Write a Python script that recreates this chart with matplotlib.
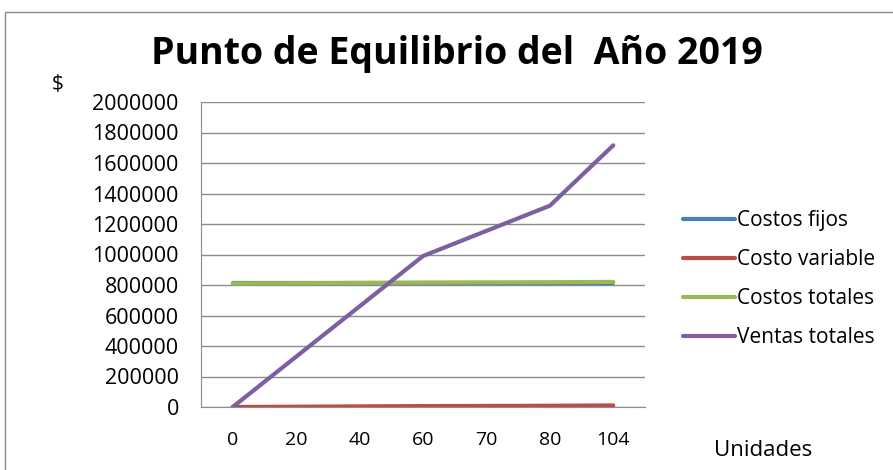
import matplotlib.pyplot as plt
from matplotlib.patches import Rectangle

# Data
unidades = ['0', '20', '40', '60', '70', '80', '104']
costos_fijos = [810000, 810000, 810000, 810000, 810000, 810000, 810000]
costo_variable = [0, 2000, 4000, 6000, 7000, 8000, 10400]
costos_totales = [810000, 812000, 814000, 816000, 817000, 818000, 820400]
ventas_totales = [0, 330000, 660000, 990000, 1155000, 1320000, 1716000]

plt.rcParams['font.family'] = ['Open Sans', 'DejaVu Sans']

fig = plt.figure(figsize=(8.93, 4.70), dpi=100)
ax = fig.add_axes([201 / 893, 1 - 407 / 470, 444 / 893, 305 / 470])

x = range(len(unidades))
ax.plot(x, costos_fijos, color='#4a7ebb', lw=3, label='Costos fijos', solid_capstyle='round')
ax.plot(x, costo_variable, color='#be4b48', lw=3, label='Costo variable', solid_capstyle='round')
ax.plot(x, costos_totales, color='#98b954', lw=3, label='Costos totales', solid_capstyle='round')
ax.plot(x, ventas_totales, color='#7d60a0', lw=3, label='Ventas totales', solid_capstyle='round')

ax.set_xlim(-0.5, len(unidades) - 0.5)
ax.set_ylim(0, 2000000)
ax.set_yticks(range(0, 2000001, 200000))
ax.set_yticklabels([str(v) for v in range(0, 2000001, 200000)], fontsize=15.5)
ax.set_xticks(list(x))
ax.set_xticklabels(unidades, fontsize=14)
ax.tick_params(axis='x', length=0, pad=17)
ax.tick_params(axis='y', length=0, pad=16)
ax.grid(axis='y', color='#8c8c8c', lw=1)
ax.set_axisbelow(True)
for s in ['top', 'right']:
    ax.spines[s].set_visible(False)
for s in ['left', 'bottom']:
    ax.spines[s].set_color('#8c8c8c')

fig.text(457 / 893, 1 - 54 / 470, 'Punto de Equilibrio del  Año 2019', ha='center', va='center',
         fontsize=27, fontweight='bold')
fig.text(58 / 893, 1 - 85 / 470, '$', ha='center', va='center', fontsize=15)
fig.text(763 / 893, 1 - 450 / 470, 'Unidades', ha='center', va='center', fontsize=16)

ax.legend(loc='center left', bbox_to_anchor=(683 / 893, 1 - 279 / 470), bbox_transform=fig.transFigure,
          frameon=False, fontsize=15, handlelength=2.5, handletextpad=0.1, labelspacing=0.87,
          borderpad=0, borderaxespad=0)

fig.patches.append(Rectangle((5 / 893, -0.1), 1.2, 1 - 12 / 470 + 0.1, transform=fig.transFigure,
                             fill=False, edgecolor='#8c8c8c', lw=1))

fig.savefig('out.png', dpi=100)
